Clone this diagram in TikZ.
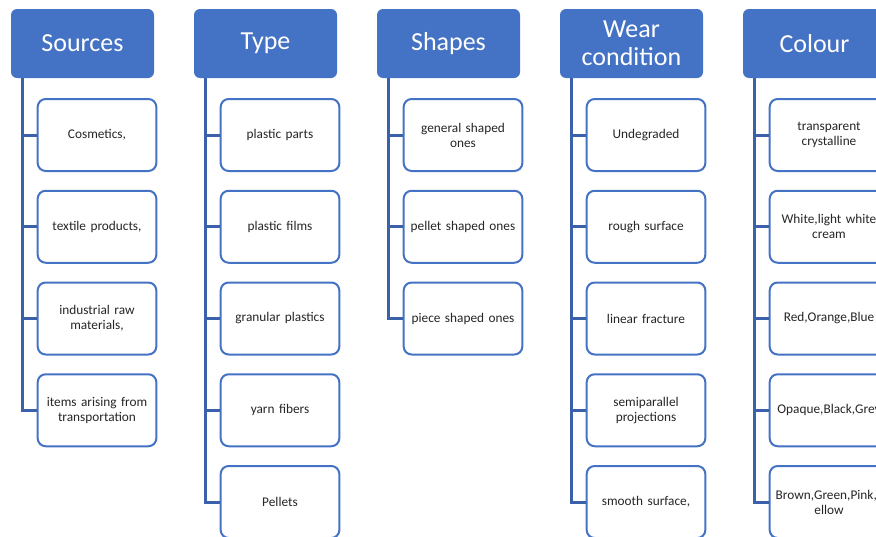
\documentclass[tikz,border=0pt]{standalone}
\usepackage{fontspec}
\setmainfont{Carlito}
\usetikzlibrary{positioning}
\definecolor{accent}{HTML}{4472C4}
\definecolor{linkblue}{HTML}{3A61AA}

\begin{document}
\begin{tikzpicture}
[x=1pt,y=-1pt,
headnode/.style={rectangle,rounded corners=6pt,fill=accent,text=white,
minimum width=143pt,minimum height=69pt,inner sep=2pt,align=center,
font=\fontsize{26}{28}\selectfont},
itemnode/.style={rectangle,rounded corners=8pt,draw=accent,line width=2pt,
fill=white,minimum width=116pt,minimum height=72pt,text width=112pt,
align=center,text=black!85,font=\fontsize{13.3}{15}\selectfont},
link/.style={draw=linkblue,line width=3pt},
node distance=17.75pt
]
\useasboundingbox (0,0) rectangle (876,536);
\clip (0,0) rectangle (876,536);
% headers
\node [headnode] (hSrc) at (82.5,43.5) {Sources};
\node [headnode] (hTyp) at (265.5,43.5) {Type};
\node [headnode] (hShp) at (448.5,43.5) {Shapes};
\node [headnode] (hWear) at (631.5,43.5) {Wear\\condition};
\node [headnode] (hCol) at (814.5,43.5) {Colour};
% sources
\node [itemnode] (src1) at (97,135) {Cosmetics,};
\node [itemnode,below=of src1] (src2) {textile products,};
\node [itemnode,below=of src2] (src3) {industrial raw\\materials,};
\node [itemnode,below=of src3] (src4) {items arising from\\transportation};
% type
\node [itemnode] (typ1) at (280,135) {plastic parts};
\node [itemnode,below=of typ1] (typ2) {plastic films};
\node [itemnode,below=of typ2] (typ3) {granular plastics};
\node [itemnode,below=of typ3] (typ4) {yarn fibers};
\node [itemnode,below=of typ4] (typ5) {Pellets};
% shapes
\node [itemnode] (shp1) at (463,135) {general shaped\\ones};
\node [itemnode,below=of shp1] (shp2) {pellet shaped ones};
\node [itemnode,below=of shp2] (shp3) {piece shaped ones};
% wear condition
\node [itemnode] (wear1) at (646,135) {Undegraded};
\node [itemnode,below=of wear1] (wear2) {rough surface};
\node [itemnode,below=of wear2] (wear3) {linear fracture};
\node [itemnode,below=of wear3] (wear4) {semiparallel\\projections};
\node [itemnode,below=of wear4] (wear5) {smooth surface,};
% colour
\node [itemnode] (col1) at (829,135) {transparent\\crystalline};
\node [itemnode,below=of col1] (col2) {White,light white\\cream};
\node [itemnode,below=of col2] (col3) {Red,Orange,Blue};
\node [itemnode,below=of col3] (col4) {Opaque,Black,Grey};
\node [itemnode,below=of col4] (col5) {Brown,Green,Pink,Y\\ellow};
% connectors
\draw [link] ([xshift=12pt]hSrc.south west) |- (src1.west);
\draw [link] ([xshift=12pt]hSrc.south west) |- (src2.west);
\draw [link] ([xshift=12pt]hSrc.south west) |- (src3.west);
\draw [link] ([xshift=12pt]hSrc.south west) |- (src4.west);
\draw [link] ([xshift=12pt]hTyp.south west) |- (typ1.west);
\draw [link] ([xshift=12pt]hTyp.south west) |- (typ2.west);
\draw [link] ([xshift=12pt]hTyp.south west) |- (typ3.west);
\draw [link] ([xshift=12pt]hTyp.south west) |- (typ4.west);
\draw [link] ([xshift=12pt]hTyp.south west) |- (typ5.west);
\draw [link] ([xshift=12pt]hShp.south west) |- (shp1.west);
\draw [link] ([xshift=12pt]hShp.south west) |- (shp2.west);
\draw [link] ([xshift=12pt]hShp.south west) |- (shp3.west);
\draw [link] ([xshift=12pt]hWear.south west) |- (wear1.west);
\draw [link] ([xshift=12pt]hWear.south west) |- (wear2.west);
\draw [link] ([xshift=12pt]hWear.south west) |- (wear3.west);
\draw [link] ([xshift=12pt]hWear.south west) |- (wear4.west);
\draw [link] ([xshift=12pt]hWear.south west) |- (wear5.west);
\draw [link] ([xshift=12pt]hCol.south west) |- (col1.west);
\draw [link] ([xshift=12pt]hCol.south west) |- (col2.west);
\draw [link] ([xshift=12pt]hCol.south west) |- (col3.west);
\draw [link] ([xshift=12pt]hCol.south west) |- (col4.west);
\draw [link] ([xshift=12pt]hCol.south west) |- (col5.west);
\end{tikzpicture}
\end{document}
